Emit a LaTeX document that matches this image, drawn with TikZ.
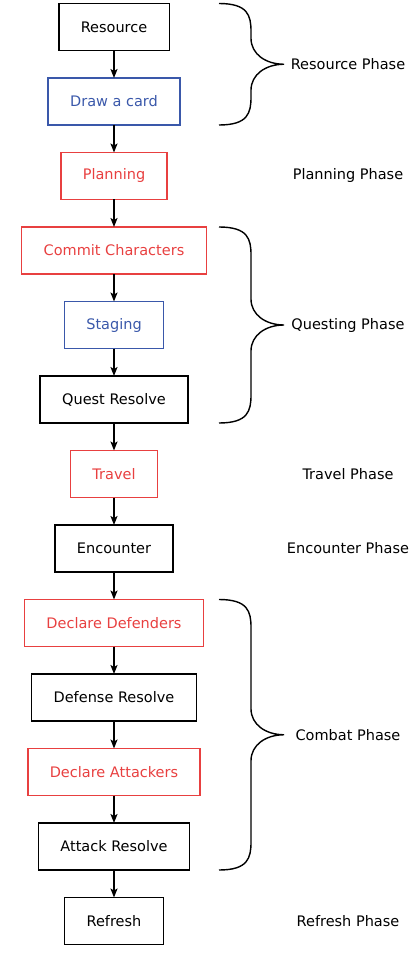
\documentclass[tikz,border=0pt]{standalone}
\usepackage{fontspec}
\setmainfont{DejaVu Sans}
\usetikzlibrary{positioning,calc,arrows.meta}
\definecolor{phred}{RGB}{232,64,64}
\definecolor{phblue}{RGB}{58,88,170}
\tikzset{
	stepbox/.style={draw, line width=1.5pt, minimum height=47pt, inner xsep=22pt, outer sep=0pt, font=\fontsize{14.5}{17}\selectfont},
	redbox/.style={stepbox, draw=phred, text=phred},
	bluebox/.style={stepbox, draw=phblue, text=phblue},
	flow/.style={-{Stealth[length=9pt,width=7pt,inset=2pt]}, line width=1.4pt},
	phase/.style={font=\fontsize{14.5}{17}\selectfont},
	bracestyle/.style={line width=1.4pt}
}
\newcommand{\phasebrace}[2]{%
	\draw[bracestyle] let \p1=(#1.north), \p2=(#2.south), \p3=($(\p1)!.5!(\p2)$) in
		(219pt,\y1) .. controls (248pt,\y1) and (251pt,\y1-12pt) .. (251pt,\y1-28pt)
		-- (251pt,\y3+26pt) .. controls (251pt,\y3+10pt) and (266pt,\y3) .. (284pt,\y3)
		.. controls (266pt,\y3) and (251pt,\y3-10pt) .. (251pt,\y3-26pt)
		-- (251pt,\y2+28pt) .. controls (251pt,\y2+12pt) and (248pt,\y2) .. (219pt,\y2);}
\begin{document}
\begin{tikzpicture}[node distance=27.5pt]
			\useasboundingbox (0,0) rectangle (414pt,-968pt);
			\coordinate (lab) at (348pt,0);
			% the steps
			\node[stepbox] (res) at (114pt,-27pt) {Resource};
			\node[bluebox, below=of res] (card) {Draw a card};
			\node[redbox, below=of card] (plan) {Planning};
			\node[redbox, below=of plan] (commit) {Commit Characters};
			\node[bluebox, below=of commit] (stag) {Staging};
			\node[stepbox, below=of stag] (quest) {Quest Resolve};
			\node[redbox, below=of quest] (travel) {Travel};
			\node[stepbox, below=of travel] (enc) {Encounter};
			\node[redbox, below=of enc] (defend) {Declare Defenders};
			\node[stepbox, below=of defend] (defres) {Defense Resolve};
			\node[redbox, below=of defres] (attack) {Declare Attackers};
			\node[stepbox, below=of attack] (attres) {Attack Resolve};
			\node[stepbox, below=of attres] (refresh) {Refresh};
			\foreach \a/\b in {res/card,card/plan,plan/commit,commit/stag,stag/quest,quest/travel,travel/enc,enc/defend,defend/defres,defres/attack,attack/attres,attres/refresh}{
				\draw [flow] (\a)--(\b);
			}
			% the phases
			\phasebrace{res}{card}
			\phasebrace{commit}{quest}
			\phasebrace{defend}{attres}
			\coordinate (resmid) at ($(res.north)!.5!(card.south)$);
			\coordinate (questmid) at ($(commit.north)!.5!(quest.south)$);
			\coordinate (combmid) at ($(defend.north)!.5!(attres.south)$);
			\node[phase] (resph) at (resmid -| lab) {Resource Phase};
			\node[phase] (planph) at (plan -| lab) {Planning Phase};
			\node[phase] (questph) at (questmid -| lab) {Questing Phase};
			\node[phase] (travph) at (travel -| lab) {Travel Phase};
			\node[phase] (encph) at (enc -| lab) {Encounter Phase};
			\node[phase] (combph) at (combmid -| lab) {Combat Phase};
			\node[phase] (refph) at (refresh -| lab) {Refresh Phase};
\end{tikzpicture}
\end{document}
